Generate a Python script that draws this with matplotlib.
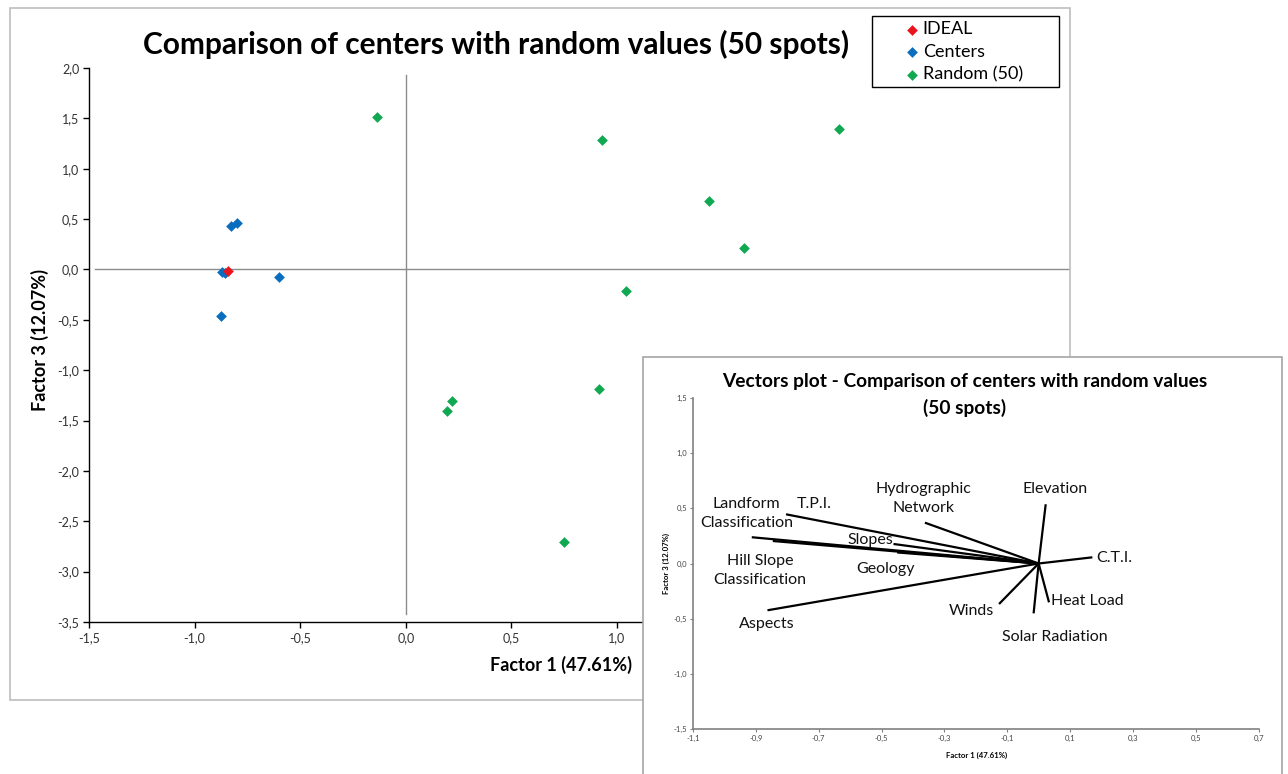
import matplotlib
matplotlib.use("Agg")
import numpy as np
import matplotlib.pyplot as plt
from matplotlib.patches import Rectangle
from matplotlib.ticker import FuncFormatter, MultipleLocator

# ---------------- data ----------------
ideal_x = [-0.84]
ideal_y = [-0.02]

centers_x = [-0.829, -0.801, -0.872, -0.856, -0.599, -0.874]
centers_y = [0.432, 0.465, -0.022, -0.032, -0.071, -0.458]

random_x = [-0.138, 0.93, 2.05, 1.436, 1.60, 1.042, 0.916, 0.218, 0.197, 0.747]
random_y = [1.517, 1.29, 1.39, 0.68, 0.21, -0.21, -1.186, -1.302, -1.408, -2.702]

series_names = ["IDEAL", "Centers", "Random (50)"]

vec_names = ["Elevation", "C.T.I.", "Heat Load", "Solar Radiation", "Winds",
             "Hydrographic\nNetwork", "Landform\nClassification", "T.P.I.",
             "Slopes", "Hill Slope\nClassification", "Geology", "Aspects"]
vec_x = [0.0225, 0.171, 0.033, -0.016, -0.126, -0.362, -0.913, -0.804,
         -0.462, -0.846, -0.45, -0.863]
vec_y = [0.537, 0.056, -0.352, -0.452, -0.367, 0.37, 0.238, 0.446,
         0.177, 0.204, 0.10, -0.424]

main_title = "Comparison of centers with random values (50 spots)"
inset_title_1 = "Vectors plot - Comparison of centers with random values"
inset_title_2 = "(50 spots)"
xlabel_txt = "Factor 1 (47.61%)"
ylabel_txt = "Factor 3 (12.07%)"

# ---------------- layout ----------------
W, H = 1288, 774
def fx(p): return p / W
def fy(p): return 1 - p / H

FONT = "Lato"
plt.rcParams["font.family"] = [FONT, "DejaVu Sans"]

RED = "#E8151D"
BLUE = "#0A6DBE"
GREEN = "#10A850"

fig = plt.figure(figsize=(W / 100, H / 100), dpi=100)
fig.patch.set_facecolor("white")

comma = FuncFormatter(lambda v, p: f"{v:.1f}".replace(".", ","))

# main axes
ax = fig.add_axes([fx(89), fy(622), fx(1070) - fx(89), (622 - 68) / H])
ax.set_xlim(-1.5, 3.145)
ax.set_ylim(-3.5, 2.0)
ax.xaxis.set_major_locator(MultipleLocator(0.5))
ax.yaxis.set_major_locator(MultipleLocator(0.5))
ax.xaxis.set_major_formatter(comma)
ax.yaxis.set_major_formatter(comma)
for s in ["top", "right"]:
    ax.spines[s].set_visible(False)
for s in ["left", "bottom"]:
    ax.spines[s].set_color("black")
    ax.spines[s].set_linewidth(1.0)
ax.tick_params(direction="out", length=4, width=1, labelsize=9,
               labelcolor="#333333", pad=3)
ax.plot([-1.47, 3.145], [0, 0], color="#8C8C8C", lw=1, zorder=1)
ax.plot([0, 0], [-3.42, 1.93], color="#8C8C8C", lw=1, zorder=1)
ax.set_facecolor("none")

h_ideal = ax.scatter(ideal_x, ideal_y, marker="D", s=30, color=RED, linewidths=0, zorder=4)
h_cent = ax.scatter(centers_x, centers_y, marker="D", s=30, color=BLUE, linewidths=0, zorder=3)
h_rand = ax.scatter(random_x, random_y, marker="D", s=30, color=GREEN, linewidths=0, zorder=3)

# outer frame of main chart
fig.patches.append(Rectangle((fx(10), fy(700)), fx(1060), (700 - 8) / H,
                             transform=fig.transFigure, fill=False,
                             edgecolor="#BDBDBD", lw=1.2, zorder=1))

fig.text(fx(496), fy(44), main_title, ha="center", va="center",
         fontsize=21.5, fontweight="bold", color="black")
fig.text(fx(561), fy(665), xlabel_txt, ha="center", va="center",
         fontsize=13, fontweight="bold")
fig.text(fx(40), fy(340), ylabel_txt, ha="center", va="center",
         fontsize=13, fontweight="bold", rotation=90)

# legend: frame drawn as its own box, entries placed inside
fig.patches.append(Rectangle((fx(872), fy(87)), fx(1059) - fx(872), (87 - 16) / H,
                             transform=fig.transFigure, facecolor="white",
                             edgecolor="black", lw=1.0, zorder=4))
leg = fig.legend([h_ideal, h_cent, h_rand], series_names, loc="upper left",
                 bbox_to_anchor=(fx(905.7), fy(21.5)), borderaxespad=0,
                 frameon=False, fontsize=13, scatterpoints=1,
                 handlelength=0.7, handletextpad=0.25, labelspacing=0.35,
                 borderpad=0)
leg.set_zorder(6)

# inset panel
panel = fig.add_axes([fx(643), 0, fx(1282) - fx(643), fy(357)])
panel.set_zorder(2)
panel.axis("off")
panel.add_patch(Rectangle((0, -0.05), 1, 1.05, transform=panel.transAxes,
                          facecolor="white", edgecolor="#A6A6A6", lw=1.2,
                          clip_on=False))

axi = fig.add_axes([fx(693), fy(729), fx(1258.6) - fx(693), (729 - 398) / H])
axi.set_zorder(3)
axi.set_facecolor("none")
axi.set_xlim(-1.1, 0.7)
axi.set_ylim(-1.5, 1.5)
axi.set_xticks(np.round(np.arange(-1.1, 0.71, 0.2), 1))
axi.yaxis.set_major_locator(MultipleLocator(0.5))
axi.xaxis.set_major_formatter(comma)
axi.yaxis.set_major_formatter(comma)
for s in ["top", "right"]:
    axi.spines[s].set_visible(False)
for s in ["left", "bottom"]:
    axi.spines[s].set_color("#808080")
    axi.spines[s].set_linewidth(1.2)
axi.tick_params(direction="out", length=2, width=0.8, color="#808080",
                labelsize=5.5, labelcolor="#444444", pad=2)

for vx, vy in zip(vec_x, vec_y):
    axi.plot([0, vx], [0, vy], color="black", lw=1.6, solid_capstyle="butt")

label_xy = [(0.052, 0.673), (0.241, 0.047), (0.155, -0.340), (0.052, -0.666),
            (-0.213, -0.431), (-0.368, 0.585), (-0.929, 0.451), (-0.715, 0.537),
            (-0.537, 0.213), (-0.887, -0.062), (-0.487, -0.050), (-0.866, -0.548)]
for name, (lx, ly) in zip(vec_names, label_xy):
    axi.text(lx, ly, name, ha="center", va="center", fontsize=11.5,
             linespacing=1.45, color="#111111")

fig.text(fx(965), fy(381), inset_title_1, ha="center", va="center",
         fontsize=13.8, fontweight="bold", zorder=5)
fig.text(fx(965), fy(408), inset_title_2, ha="center", va="center",
         fontsize=13.8, fontweight="bold", zorder=5)
fig.text(fx(977), fy(755), xlabel_txt, ha="center", va="center",
         fontsize=5.6, fontweight="bold", zorder=5)
fig.text(fx(666), fy(563), ylabel_txt, ha="center", va="center",
         fontsize=5.6, fontweight="bold", rotation=90, zorder=5)

fig.savefig("out.png", dpi=100, facecolor="white")
